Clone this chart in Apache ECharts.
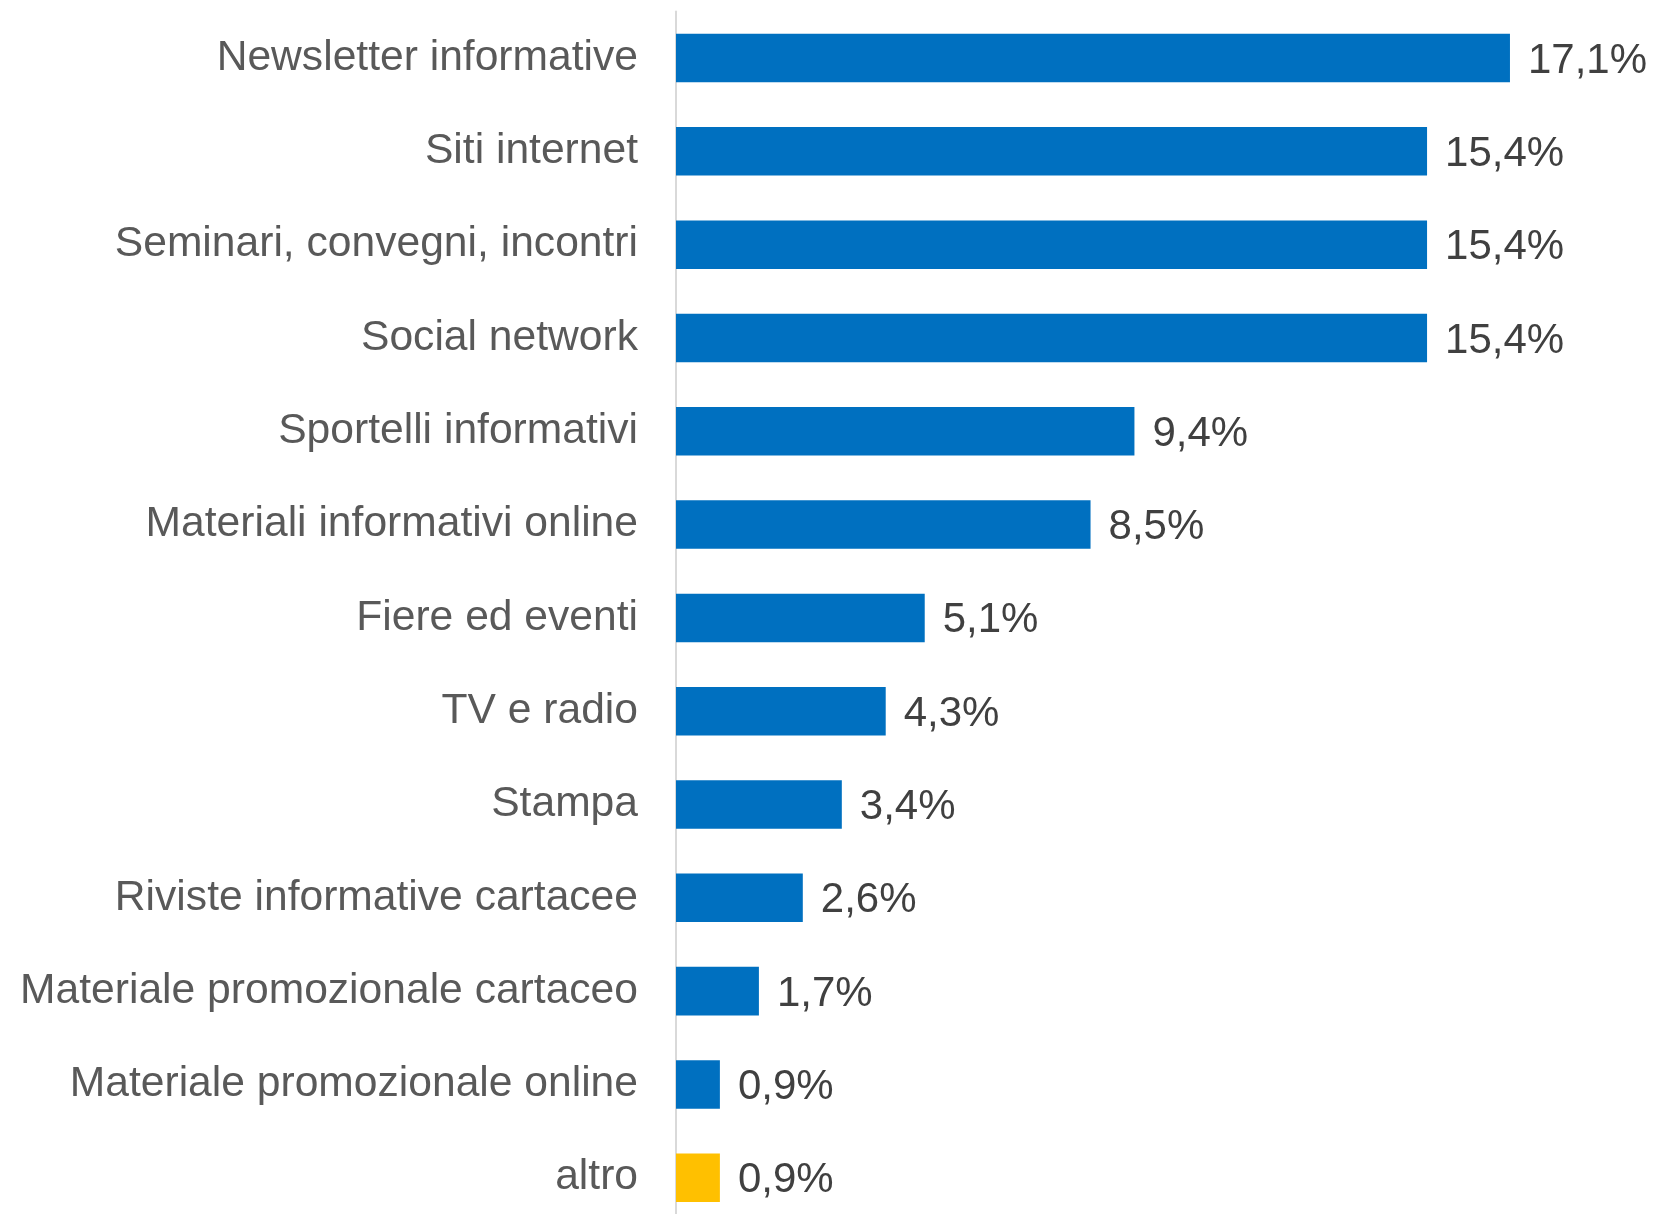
<!DOCTYPE html>
<html>
<head>
<meta charset="utf-8">
<script src="https://cdn.jsdelivr.net/npm/echarts@6/dist/echarts.min.js"></script>
<style>
html,body{margin:0;padding:0;background:#fff;overflow:hidden;}
#chart{width:1653px;height:1240px;}
</style>
</head>
<body>
<div id="chart"></div>
<script>
const categories = [
  "Newsletter informative",
  "Siti internet",
  "Seminari, convegni, incontri",
  "Social network",
  "Sportelli informativi",
  "Materiali informativi online",
  "Fiere ed eventi",
  "TV e radio",
  "Stampa",
  "Riviste informative cartacee",
  "Materiale promozionale cartaceo",
  "Materiale promozionale online",
  "altro"
];
const values = [17.1, 15.4, 15.4, 15.4, 9.4, 8.5, 5.1, 4.3, 3.4, 2.6, 1.7, 0.9, 0.9];
const highlighted = ["altro"];

const chart = echarts.init(document.getElementById('chart'), null, {renderer: 'canvas'});
const FONT = '"Liberation Sans", Arial, sans-serif';
chart.setOption({
  animation: false,
  backgroundColor: '#ffffff',
  grid: {left: 676, width: 975.4, top: 11.4, height: 1213, containLabel: false},
  xAxis: {
    type: 'value', min: 0, max: 20,
    show: false
  },
  yAxis: {
    type: 'category',
    inverse: true,
    data: categories,
    axisLine: {show: true, lineStyle: {color: '#D9D9D9', width: 2}},
    axisTick: {show: false},
    splitLine: {show: false},
    axisLabel: {
      margin: 38,
      color: '#595959',
      fontFamily: FONT,
      fontSize: 42.6,
      padding: [4, 0, 0, 0]
    }
  },
  series: [{
    type: 'bar',
    data: values.map((v, i) => ({
      value: v,
      itemStyle: {color: highlighted.includes(categories[i]) ? '#FFC000' : '#0070C0'}
    })),
    barCategoryGap: '48%',
    label: {
      show: true,
      position: 'right',
      distance: 18,
      offset: [0, 3],
      color: '#404040',
      fontFamily: FONT,
      fontSize: 42,
      formatter: p => p.value.toFixed(1).replace('.', ',') + '%'
    }
  }]
});
</script>
</body>
</html>
